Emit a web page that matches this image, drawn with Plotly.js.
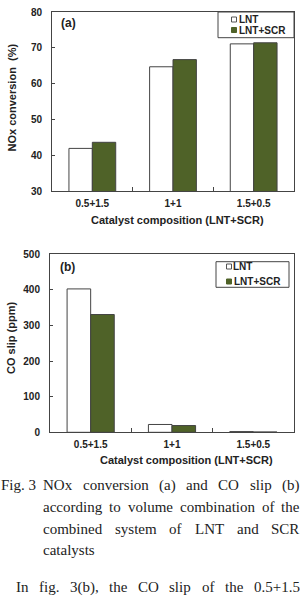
<!DOCTYPE html>
<html>
<head>
<meta charset="utf-8">
<script src="https://cdn.plot.ly/plotly-3.0.1.min.js"></script>
<style>
html,body{margin:0;padding:0;background:#fff;}
#chart{width:300px;height:612px;}
</style>
</head>
<body>
<div id="chart"></div>
<script>
// ---- data ----
const categories = ["0.5+1.5", "1+1", "1.5+0.5"];
const noxLNT = [41.9, 64.7, 71.1];
const noxLNTSCR = [43.6, 66.7, 71.4];
const coLNT = [403, 22, 2];
const coLNTSCR = [331, 19, 1];
const seriesNames = ["LNT", "LNT+SCR"];

const W = 300, H = 612;
const px = x => x / W;
const py = y => 1 - y / H;

const SANS = "Liberation Sans, Arial, sans-serif";
const SERIF = "Liberation Serif, Times New Roman, serif";
const GREEN = "#4f6228";
const LINE = "#444";
const TXT = "#222";

function bar(name, x, y, xa, ya, fill) {
  return {
    type: "bar", name: name, x: x, y: y, xaxis: xa, yaxis: ya,
    showlegend: false,
    marker: {color: fill, line: {color: LINE, width: 1}},
    hoverinfo: "x+y+name"
  };
}

const data = [
  bar(seriesNames[0], categories, noxLNT, "x", "y", "#ffffff"),
  bar(seriesNames[1], categories, noxLNTSCR, "x", "y", GREEN),
  bar(seriesNames[0], categories, coLNT, "x2", "y2", "#ffffff"),
  bar(seriesNames[1], categories, coLNTSCR, "x2", "y2", GREEN)
];

const tickFont = {family: SANS, size: 10, color: TXT, weight: "bold"};
function xAxis(dom, anchor) {
  return {
    domain: dom, anchor: anchor, type: "category",
    showline: true, mirror: true, linecolor: LINE, linewidth: 1,
    ticks: "inside", tickson: "boundaries", ticklen: 4, tickcolor: LINE,
    tickfont: tickFont, showgrid: false, ticklabelstandoff: 3,
    fixedrange: true
  };
}
function yAxis(dom, anchor, range, dtick) {
  return {
    domain: dom, anchor: anchor, range: range, dtick: dtick,
    showline: true, mirror: true, linecolor: LINE, linewidth: 1,
    ticks: "inside", ticklen: 3, tickcolor: LINE,
    tickfont: tickFont, showgrid: false, zeroline: false,
    ticklabelstandoff: 7, fixedrange: true
  };
}

const annotations = [];
const shapes = [];
function ann(text, x, y, opts) {
  annotations.push(Object.assign({
    text: text, x: px(x), y: py(y), xref: "paper", yref: "paper",
    showarrow: false, xanchor: "center", yanchor: "middle",
    font: {family: SANS, size: 11, color: TXT, weight: "bold"}
  }, opts || {}));
}
function rect(x0, y0, x1, y1, fill, lc) {
  shapes.push({type: "rect", xref: "paper", yref: "paper",
    x0: px(x0), x1: px(x1), y0: py(y1), y1: py(y0),
    line: {color: lc, width: 1}, fillcolor: fill, layer: "above"});
}
// axis titles and panel labels
ann("NOx conversion  (%)", 11, 97.5, {textangle: -90});
ann("Catalyst composition (LNT+SCR)", 177.5, 220);
ann("CO slip (ppm)", 11, 338, {textangle: -90});
ann("Catalyst composition (LNT+SCR)", 186, 460);
ann("(a)", 68.5, 23.5, {font: {family: SANS, size: 12, color: TXT, weight: "bold"}});
ann("(b)", 67, 266.5, {font: {family: SANS, size: 12, color: TXT, weight: "bold"}});

// compact legends: box, small square keys, labels
function legendBox(x0, y0, x1, y1, sx, ya, yb) {
  rect(x0, y0, x1, y1, "#ffffff", LINE);
  const lf = {family: SANS, size: 10, color: TXT, weight: "bold"};
  rect(sx, ya - 2.5, sx + 5, ya + 2.5, "#ffffff", "#555");
  rect(sx, yb - 2.5, sx + 5, yb + 2.5, GREEN, GREEN);
  ann(seriesNames[0], sx + 5, ya, {xanchor: "left", font: lf});
  ann(seriesNames[1], sx + 5, yb, {xanchor: "left", font: lf});
}
legendBox(218, 12, 294, 37.7, 231.5, 19.5, 30);
legendBox(216, 261.7, 289, 287.3, 226.5, 266.5, 281.5);

// caption (justified text, laid out word by word)
const capSize = 15;
const cv = document.createElement("canvas").getContext("2d");
cv.font = capSize + "px 'Liberation Serif'";
function capWord(w, x, y) {
  ann(w, x, y, {xanchor: "left", font: {family: SERIF, size: capSize, color: TXT}});
}
function justify(words, x0, x1, y) {
  const widths = words.map(w => cv.measureText(w).width);
  const total = widths.reduce((a, b) => a + b, 0);
  const gap = words.length > 1 ? (x1 - x0 - total) / (words.length - 1) : 0;
  let x = x0;
  words.forEach((w, i) => { capWord(w, x - 1, y); x += widths[i] + gap; });
}
capWord("Fig. 3", -1, 485);
justify(["NOx", "conversion", "(a)", "and", "CO", "slip", "(b)"], 42, 298.5, 485);
justify(["according", "to", "volume", "combination", "of", "the"], 41.7, 298.5, 507);
justify(["combined", "system", "of", "LNT", "and", "SCR"], 41.7, 298.5, 529);
capWord("catalysts", 40.7, 550);
justify(["In", "fig.", "3(b),", "the", "CO", "slip", "of", "the", "0.5+1.5"], 15, 298.5, 587);
justify(["combination", "is", "much", "higher", "than", "the", "case", "of", "the", "LNT"], 0, 298.5, 620);

const layout = {
  width: W, height: H,
  margin: {l: 0, r: 0, t: 0, b: 0, pad: 0},
  paper_bgcolor: "#ffffff", plot_bgcolor: "#ffffff",
  barmode: "group", bargap: 0.42, bargroupgap: 0,
  showlegend: false,
  xaxis: xAxis([px(52), px(294)], "y"),
  yaxis: yAxis([py(191), py(12)], "x", [30, 80], 10),
  xaxis2: xAxis([px(50), px(294)], "y2"),
  yaxis2: yAxis([py(432.3), py(254.4)], "x2", [0, 500], 100),
  shapes: shapes,
  annotations: annotations
};

Plotly.newPlot("chart", data, layout, {displayModeBar: false, staticPlot: true});
</script>
</body>
</html>
